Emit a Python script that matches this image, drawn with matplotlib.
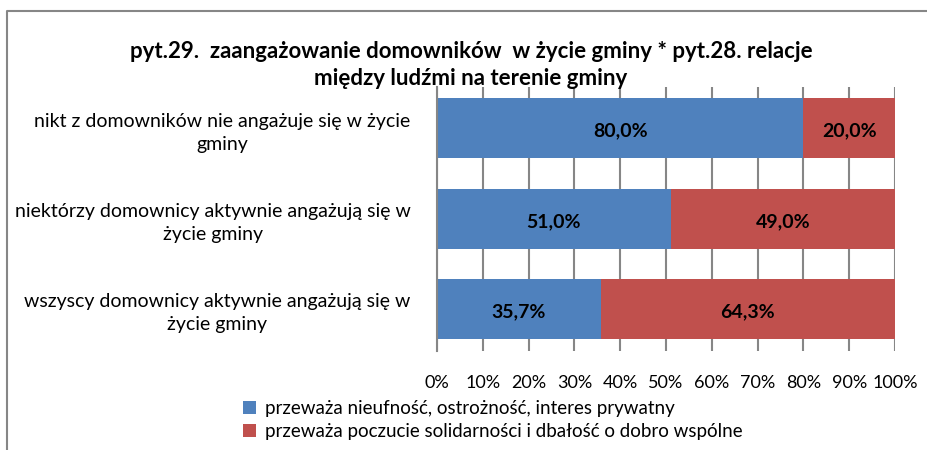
import numpy as np
import matplotlib
matplotlib.use("Agg")
import matplotlib.pyplot as plt
from matplotlib.lines import Line2D

plt.rcParams['font.family'] = ['Lato', 'DejaVu Sans']

categories = [
    "nikt z domowników nie angażuje się w życie\ngminy",
    "niektórzy domownicy aktywnie angażują się w\nżycie gminy",
    "wszyscy domownicy aktywnie angażują się w\nżycie gminy",
]
series_names = [
    "przeważa nieufność, ostrożność, interes prywatny",
    "przeważa poczucie solidarności i dbałość o dobro wspólne",
]
distrust = [80.0, 51.0, 35.7]
solidarity = [20.0, 49.0, 64.3]
colors = ['#4F81BD', '#C0504D']
x_ticks = [0, 10, 20, 30, 40, 50, 60, 70, 80, 90, 100]
title = ("pyt.29.  zaangażowanie domowników  w życie gminy * pyt.28. relacje\n"
         "między ludźmi na terenie gminy")

fig = plt.figure(figsize=(9.27, 4.5), dpi=100)
ax = fig.add_axes([437 / 927, 1 - 351 / 450, 458 / 927, 264 / 450])

y = np.arange(len(categories))
left = np.zeros(len(categories))
for vals, name, col in zip([distrust, solidarity], series_names, colors):
    vals = np.array(vals)
    bars = ax.barh(y, vals, left=left, height=0.667, color=col, label=name, zorder=3)
    for b, v, l in zip(bars, vals, left):
        ax.text(l + v / 2, b.get_y() + b.get_height() / 2 + 0.03, ('%.1f%%' % v).replace('.', ','),
                ha='center', va='center', fontsize=14, fontweight='bold', color='black', zorder=4)
    left = left + vals

ax.set_xlim(0, 100)
ax.set_ylim(len(categories) - 1 + 0.47, -0.46)
ax.set_xticks(x_ticks)
ax.set_xticklabels(['%d%%' % t for t in x_ticks], fontsize=13)
ax.tick_params(axis='x', length=0, pad=17)
ax.set_yticks(y)
ax.set_yticklabels(categories, fontsize=14, ha='right', multialignment='center', linespacing=1.45)
ax.tick_params(axis='y', length=0, pad=19)
ax.grid(axis='x', color='#868686', linewidth=1.5, zorder=0)
for s in ['top', 'right', 'bottom']:
    ax.spines[s].set_visible(False)
ax.spines['left'].set_color('#868686')
ax.spines['left'].set_linewidth(1.5)
ax.spines['left'].set_zorder(5)

fig.text(0.508, 1 - 65 / 450, title, ha='center', va='center', fontsize=16,
         fontweight='bold', linespacing=1.3)

fig.legend(loc='upper left', bbox_to_anchor=(243 / 927, 1 - 400 / 450), frameon=False,
           fontsize=13.5, handlelength=0.7, handleheight=0.7, handletextpad=0.45,
           labelspacing=0.3, borderpad=0, borderaxespad=0)

# outer chart frame (cropped at right and bottom)
fig.add_artist(Line2D([7.5 / 927, 7.5 / 927, 1.0], [0, 1 - 11 / 450, 1 - 11 / 450],
                      transform=fig.transFigure, color='#868686', linewidth=1.5))

fig.savefig('out.png', dpi=100, facecolor='white')
